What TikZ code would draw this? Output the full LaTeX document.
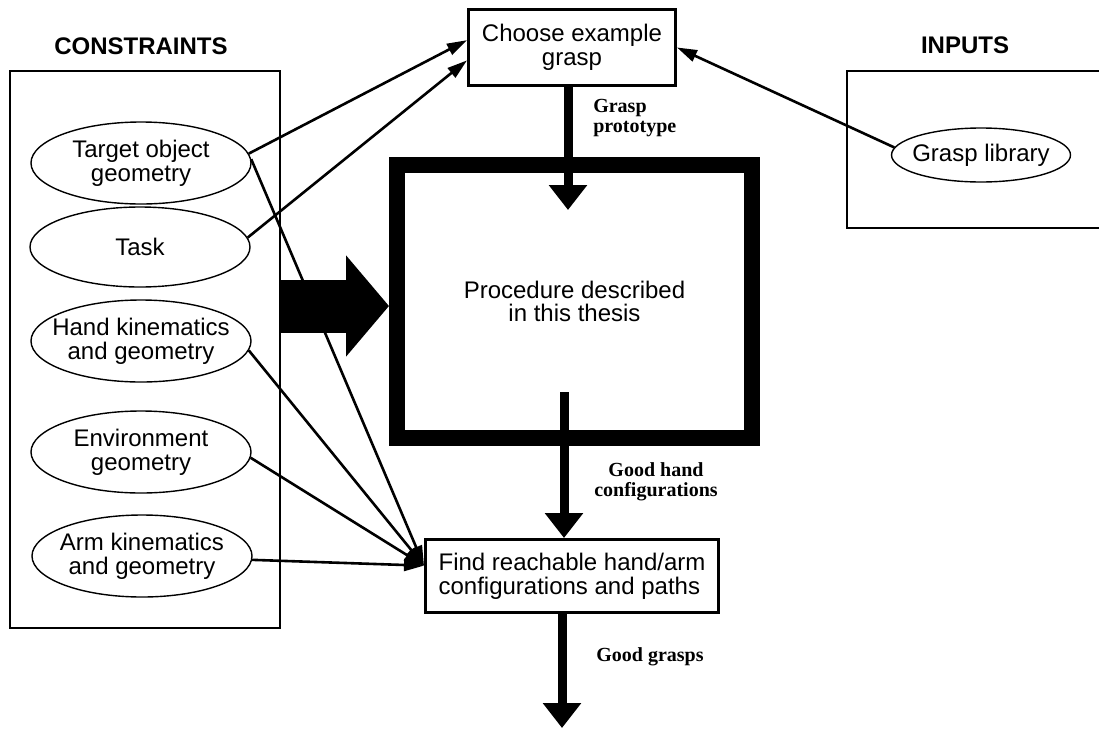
\documentclass[tikz,border=0pt]{standalone}
\usepackage{fontspec}
\setmainfont{Liberation Sans}
\newfontfamily\lblfont{Liberation Serif}
\usetikzlibrary{shapes.geometric, arrows.meta}

\begin{document}
\begin{tikzpicture}[x=0.5pt, y=-0.5pt, line width=1.3pt, font=\fontsize{12}{11.8}\selectfont]
\tikzstyle{every node} = [align=center, inner sep=0pt]
\tikzstyle{cstr} = [ellipse, draw, line width=0.7pt, minimum width=110pt, minimum height=41pt, inner xsep=-6pt]
\tikzstyle{stage} = [rectangle, draw, line width=1.5pt]
\tikzstyle{flow} = [line width=4.5pt, -{Triangle[length=12.5pt, width=18.5pt]}]
\tikzstyle{feed} = [-{Triangle[length=10pt, width=6pt]}]
\tikzstyle{heading} = [font=\bfseries\fontsize{12}{12}\selectfont]
\tikzstyle{tag} = [font=\lblfont\bfseries\fontsize{10}{10}\selectfont]
\useasboundingbox (0,0) rectangle (1099,729);
% constraints
\node[heading] (cstrlbl) at (141,46) {CONSTRAINTS};
\node[draw, line width=0.7pt, minimum width=135pt, minimum height=278.5pt] (cstrbox) at (145,349.5) {};
\node[cstr] (target) at (141,163) {Target object\\geometry};
\node[cstr, minimum height=40pt] (task) at (140,247) {Task};
\node[cstr] (hand) at (141,341) {Hand kinematics\\and geometry};
\node[cstr] (env) at (141,452) {Environment\\geometry};
\node[cstr] (arm) at (142,556) {Arm kinematics\\and geometry};
% inputs
\node[heading] (inlbl) at (965,45) {INPUTS};
\draw[line width=0.7pt] (1099,71) -| (847,228) -- (1099,228);
\node[cstr, minimum width=89.5pt, minimum height=27pt] (lib) at (981,155) {Grasp library};
% stages
\node[stage, minimum width=103.5pt, minimum height=38pt] (choose) at (572,47.5) {Choose example\\grasp};
\node[draw, line width=8pt, minimum width=177.5pt, minimum height=136.5pt] (proc) at (574.5,301.5) {Procedure described\\in this thesis};
\node[stage, minimum width=146.5pt, minimum height=36.5pt, align=left] (find) at (572,576) {Find reachable hand/arm\\configurations and paths};
\coordinate (protoend) at (568,210);
\coordinate (handout) at (564,392);
\coordinate (graspend) at (562,728);
\coordinate (bigtip) at (389,306);
% main flow
\draw[flow] (protoend |- choose.south) -- (protoend);
\draw[flow] (handout) -- (handout |- find.north);
\draw[flow] (graspend |- find.south) -- (graspend);
\draw[line width=26.5pt, -{Triangle[length=21.5pt, width=49.5pt]}] (cstrbox.east |- bigtip) -- (bigtip);
\node[tag, align=left, anchor=west] (protolbl) at (592,118) {Grasp\\prototype};
\node[tag] (handcfg) at (656,482) {Good hand\\configurations};
\node[tag] (goodlbl) at (650,657) {Good grasps};
% feeds
\foreach \from/\to in {target.5/choose.176, task.5/choose.187, lib.175/choose.east}
  \draw[feed] (\from) -- (\to);
\foreach \from in {target.2, hand.-5, env.-3, arm.-2}
  \draw[feed] (\from) -- (find.176);
\end{tikzpicture}
\end{document}
